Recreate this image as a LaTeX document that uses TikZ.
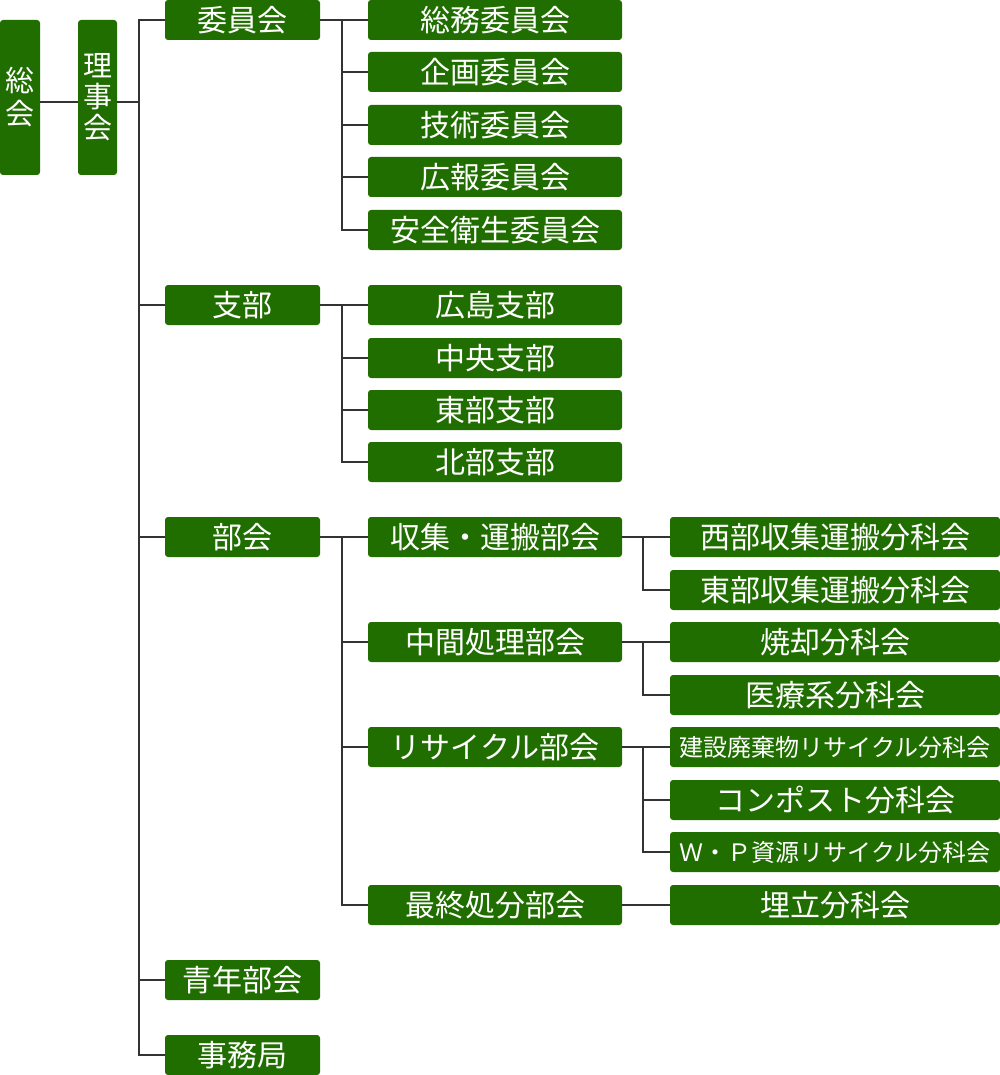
\documentclass[tikz,border=0pt]{standalone}
\usepackage{fontspec}
\setmainfont{Noto Sans CJK JP}
\definecolor{boxgreen}{HTML}{216E00}
\definecolor{linegray}{HTML}{333333}
\begin{document}
\begin{tikzpicture}[x=1pt,y=-1pt,
  box/.style={fill=boxgreen,rounded corners=3pt,text=white,inner sep=0pt,
    font=\fontsize{30}{33}\selectfont},
  vbox/.style={box,minimum width=39pt,minimum height=155pt,align=center},
  lone/.style={box,minimum width=155pt,minimum height=40pt},
  ltwo/.style={box,minimum width=254pt,minimum height=40pt},
  lthree/.style={box,minimum width=330pt,minimum height=40pt},
  small/.style={font=\fontsize{24}{28}\selectfont},
  conn/.style={draw=linegray,line width=2pt}]
\useasboundingbox (0,0) rectangle (1000,1075);
% top
\node[vbox,minimum width=40pt,font=\fontsize{29}{33}\selectfont] (soukai) at (20,97.5) {総\\会};
\node[vbox,font=\fontsize{29}{31}\selectfont] (rijikai) at (97.5,97.5) {理\\事\\会};
% level 1
\node[lone] (iin) at (242.5,20) {委員会};
\node[lone] (shibu) at (242.5,305) {支部};
\node[lone] (bukai) at (242.5,537) {部会};
\node[lone] (seinen) at (242.5,980) {青年部会};
\node[lone] (jimu) at (242.5,1055) {事務局};
% level 2
\node[ltwo] (soumu) at (495,20) {総務委員会};
\node[ltwo] (kikaku) at (495,72) {企画委員会};
\node[ltwo] (gijutsu) at (495,125) {技術委員会};
\node[ltwo] (kouhou) at (495,177) {広報委員会};
\node[ltwo] (anzen) at (495,230) {安全衛生委員会};
\node[ltwo] (hiroshima) at (495,305) {広島支部};
\node[ltwo] (chuo) at (495,358) {中央支部};
\node[ltwo] (toubu) at (495,410) {東部支部};
\node[ltwo] (hokubu) at (495,462) {北部支部};
\node[ltwo] (shushu) at (495,537) {収集・運搬部会};
\node[ltwo] (chukan) at (495,642) {中間処理部会};
\node[ltwo] (recycle) at (495,747) {リサイクル部会};
\node[ltwo] (saishu) at (495,905) {最終処分部会};
% level 3
\node[lthree] (seibu) at (835,537) {西部収集運搬分科会};
\node[lthree] (toubu3) at (835,590) {東部収集運搬分科会};
\node[lthree] (shoukyaku) at (835,642) {焼却分科会};
\node[lthree] (iryou) at (835,695) {医療系分科会};
\node[lthree,small] (kensetsu) at (835,747) {建設廃棄物リサイクル分科会};
\node[lthree] (compost) at (835,800) {コンポスト分科会};
\node[lthree,small] (wp) at (835,852) {Ｗ・Ｐ資源リサイクル分科会};
\node[lthree] (umetate) at (835,905) {埋立分科会};
% trunk coordinates
\coordinate (t1) at (139,102);
\coordinate (t2) at (342,20);
\coordinate (t3) at (643,537);
% connectors top
\draw[conn] ([yshift=-4.5pt]soukai.east) -- ([yshift=-4.5pt]rijikai.west);
\draw[conn] ([yshift=-4.5pt]rijikai.east) -- (t1);
\draw[conn] (iin.west) -- (iin.west -| t1) -- (jimu.west -| t1) -- (jimu.west);
\foreach \n in {shibu,bukai,seinen}
  \draw[conn] (\n.west -| t1) -- (\n.west);
% committees
\draw[conn] (iin.east) -- (soumu.west);
\draw[conn] (soumu.west -| t2) -- (anzen.west -| t2) -- (anzen.west);
\foreach \n in {kikaku,gijutsu,kouhou}
  \draw[conn] (\n.west -| t2) -- (\n.west);
% branches
\draw[conn] (shibu.east) -- (hiroshima.west);
\draw[conn] (hiroshima.west -| t2) -- (hokubu.west -| t2) -- (hokubu.west);
\foreach \n in {chuo,toubu}
  \draw[conn] (\n.west -| t2) -- (\n.west);
% bukai
\draw[conn] (bukai.east) -- (shushu.west);
\draw[conn] (shushu.west -| t2) -- (saishu.west -| t2) -- (saishu.west);
\foreach \n in {chukan,recycle}
  \draw[conn] (\n.west -| t2) -- (\n.west);
% level 3
\draw[conn] (shushu.east) -- (seibu.west);
\draw[conn] (seibu.west -| t3) -- (toubu3.west -| t3) -- (toubu3.west);
\draw[conn] (chukan.east) -- (shoukyaku.west);
\draw[conn] (shoukyaku.west -| t3) -- (iryou.west -| t3) -- (iryou.west);
\draw[conn] (recycle.east) -- (kensetsu.west);
\draw[conn] (kensetsu.west -| t3) -- (wp.west -| t3) -- (wp.west);
\draw[conn] (compost.west -| t3) -- (compost.west);
\draw[conn] (saishu.east) -- (umetate.west);
\end{tikzpicture}
\end{document}
